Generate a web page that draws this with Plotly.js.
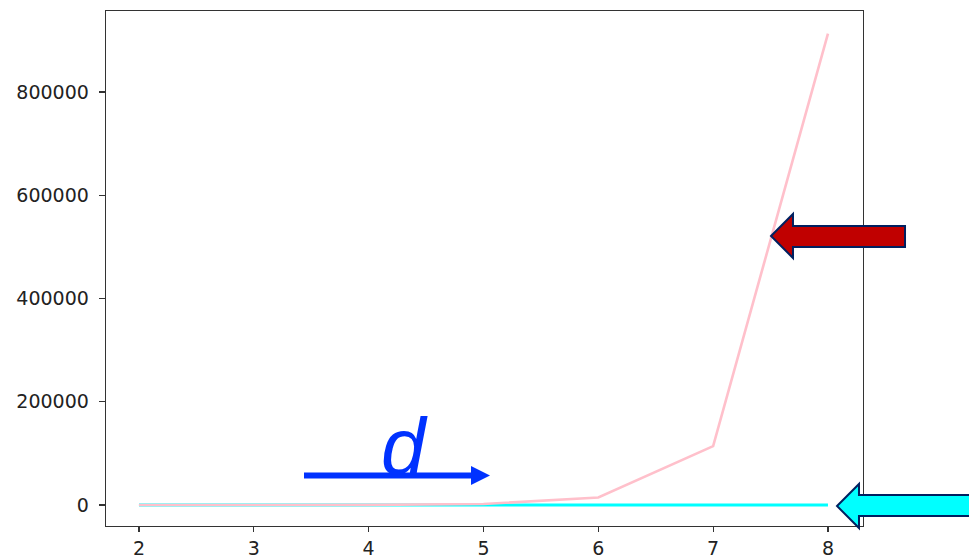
<!DOCTYPE html>
<html>
<head>
<meta charset="utf-8">
<script src="https://cdn.plot.ly/plotly-3.0.1.min.js"></script>
<style>html,body{margin:0;padding:0;background:#fff;}#chart{width:969px;height:560px;}</style>
</head>
<body>
<div id="chart"></div>
<script>
// data
const xValues = [2, 3, 4, 5, 6, 7, 8];
const pinkSeries = [4, 30, 230, 1800, 14500, 114000, 913000];
const cyanSeries = [4, 9, 16, 25, 36, 49, 64];
const xTicks = [2, 3, 4, 5, 6, 7, 8];
const yTicks = [0, 200000, 400000, 600000, 800000];

// plot area in pixels
const L = 106, R = 863, T = 11, B = 526;
const W = 969, H = 560;
const px = p => (p - L) / (R - L);
const py = p => (B - p) / (B - T);
function pathFrom(points) {
  return points.map((pt, i) => (i ? 'L' : 'M') + px(pt[0]).toFixed(4) + ',' + py(pt[1]).toFixed(4)).join(' ') + ' Z';
}

const redArrow = pathFrom([[771,236],[793,214],[793,226],[905,226],[905,247],[793,247],[793,258]]);
const cyanArrow = pathFrom([[837,506],[859,484],[859,495],[975,495],[975,516],[859,516],[859,528]]);
const blueHead = pathFrom([[471,466],[490,475.5],[471,485]]);

const traces = [
  {x: xValues, y: cyanSeries, mode: 'lines', line: {color: 'rgb(0,255,255)', width: 3}, hoverinfo: 'skip'},
  {x: xValues, y: pinkSeries, mode: 'lines', line: {color: 'rgb(255,192,203)', width: 2.6}, hoverinfo: 'skip'}
];

const axisCommon = {
  showgrid: false, zeroline: false, showline: true, mirror: true,
  linecolor: '#333', linewidth: 1.3, ticks: 'outside', ticklen: 6, tickwidth: 1.2,
  tickcolor: '#333', tickfont: {family: 'DejaVu Sans', size: 19, color: '#222'}
};

// y range chosen so that 0 sits at pixel 505 and 800000 at pixel 92
const yPerPx = 800000 / (505 - 92);
const layout = {
  width: W, height: H,
  margin: {l: L, r: W - R, t: T, b: H - B, pad: 0},
  paper_bgcolor: '#fff', plot_bgcolor: '#fff',
  showlegend: false,
  xaxis: Object.assign({}, axisCommon, {range: [1.713, 8.305], tickvals: xTicks, ticktext: xTicks.map(String), ticklabelstandoff: 0, ticklen: 5}),
  yaxis: Object.assign({}, axisCommon, {range: [-(B - 505) * yPerPx, (505 - T) * yPerPx], tickvals: yTicks, ticktext: yTicks.map(String), ticklabelstandoff: 6}),
  shapes: [
    {type: 'line', xref: 'paper', yref: 'paper', x0: px(304), x1: px(474), y0: py(475.5), y1: py(475.5), line: {color: 'rgb(0,50,255)', width: 6}, layer: 'above'},
    {type: 'path', xref: 'paper', yref: 'paper', path: blueHead, fillcolor: 'rgb(0,50,255)', line: {width: 0}, layer: 'above'},
    {type: 'path', xref: 'paper', yref: 'paper', path: redArrow, fillcolor: 'rgb(192,0,0)', line: {color: 'rgb(0,32,96)', width: 2}, layer: 'above'},
    {type: 'path', xref: 'paper', yref: 'paper', path: cyanArrow, fillcolor: 'rgb(0,255,255)', line: {color: 'rgb(0,32,96)', width: 2}, layer: 'above'}
  ],
  annotations: [
    {xref: 'paper', yref: 'paper', x: px(404), y: py(446), text: '<i>d</i>', showarrow: false,
     font: {family: 'Liberation Sans', size: 80, color: 'rgb(0,50,255)'}, xanchor: 'center', yanchor: 'middle'}
  ]
};

Plotly.newPlot('chart', traces, layout, {staticPlot: true, displayModeBar: false});
</script>
</body>
</html>
